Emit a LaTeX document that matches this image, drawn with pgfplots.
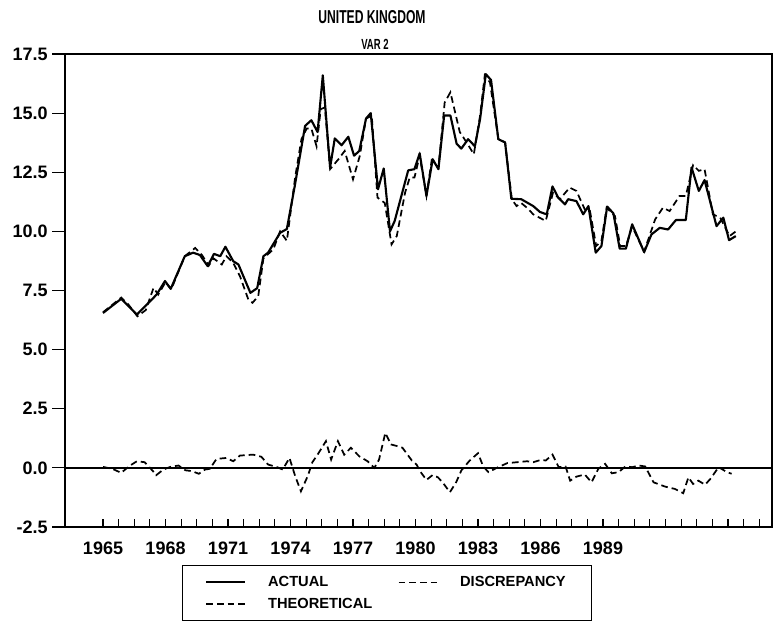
\documentclass[border=0pt]{standalone}
\usepackage{pgfplots}
\usepackage{pgfplotstable}
\pgfplotsset{compat=1.18}
\usepackage{fontspec}
\setmainfont{Liberation Sans}
\newfontfamily\condfont[FakeStretch=0.65]{Liberation Sans}

\pgfplotstableread{
t v
0 6.55
3.5 7.15
6.5 6.48
8.4 6.9
10.3 7.33
11.9 7.9
13 7.57
15.7 8.95
17.3 9.1
18.6 9.0
20.1 8.53
21.3 9.05
22.5 8.95
23.5 9.35
25 8.74
26 8.6
28.3 7.4
29.6 7.6
30.8 8.95
31.7 9.1
34 9.94
35.3 10.1
36.8 11.9
38.8 14.46
40 14.7
41.2 14.2
42.2 16.6
43.6 12.7
44.5 13.93
45.8 13.64
47.1 14.0
48.2 13.2
49.2 13.4
50.5 14.77
51.4 15.0
52.8 11.78
53.9 12.66
55.1 10.0
56 10.44
58.6 12.58
59.8 12.63
60.8 13.3
62.1 11.5
63.3 13.05
64.4 12.63
65.5 14.9
66.7 14.9
67.9 13.7
68.8 13.5
70.1 13.9
71.4 13.6
72.4 14.75
73.5 16.65
74.5 16.4
75.9 13.9
77.2 13.76
78.4 11.38
80.3 11.36
82.6 11.07
83.9 10.82
85.2 10.72
86.3 11.9
87.4 11.43
88.7 11.14
89.3 11.36
90.9 11.28
92.2 10.72
93.2 11.07
94.6 9.1
95.7 9.38
96.8 11.05
98 10.76
99.2 9.27
100.4 9.27
101.6 10.3
103.9 9.12
105.3 9.87
106.9 10.15
108.5 10.08
110 10.48
111.9 10.48
113 12.7
114.4 11.71
115.5 12.17
117.8 10.22
119.1 10.58
120.2 9.63
121.5 9.8
}\actual

\pgfplotstableread{
t v
0 6.58
3.5 7.2
4.9 6.9
6.6 6.41
8.2 6.67
9.7 7.61
10.6 7.33
12 7.85
13.1 7.55
15.7 8.95
17.7 9.3
19 9.0
20.3 8.55
21.2 8.86
22.8 8.6
23.7 8.95
25 8.67
26.3 8.1
27.9 7.12
28.7 6.98
29.8 7.26
30.8 8.86
32.7 9.24
34 10.0
35.3 9.6
36.9 12.3
38.1 13.9
39.1 14.35
40 14.35
41 13.6
41.8 15.17
42.6 15.24
43.6 12.63
45.2 13.05
46.4 13.4
48 12.2
49.3 13.19
50.5 14.77
51.6 14.89
52.7 11.43
54.1 11.2
55.4 9.45
56.4 9.8
58 11.64
58.9 12.28
59.8 12.28
60.8 13.2
62.1 11.5
63.1 13.0
64.4 12.7
65.6 15.45
66.7 15.88
68.5 14.2
69.7 13.8
71.2 13.26
72.4 14.9
73.3 16.6
74.3 16.3
75.9 13.9
77.2 13.76
78.5 11.36
79.4 11.07
80.3 11.2
81.6 10.96
82.6 10.72
85 10.44
86.4 11.64
87.7 11.36
89.6 11.85
90.9 11.71
92.5 10.93
93.5 10.86
94.7 9.38
95.7 9.6
96.7 11.0
98.3 10.65
99.3 9.38
100.4 9.38
101.6 10.2
103.9 9.15
106 10.5
107.5 11.0
108.8 10.86
110.7 11.5
111.9 11.5
113.3 12.8
114.4 12.56
115.5 12.63
117.1 10.72
118.5 10.58
120.3 9.8
121.5 10.0
}\theoretical

\pgfplotstableread{
t v
0 0.04
1.8 -0.04
3.5 -0.21
5 0.07
6.5 0.28
8 0.24
9.6 -0.14
10.2 -0.31
11.6 -0.07
12.9 0.04
14.5 0.1
15.8 -0.1
17.1 -0.14
18.4 -0.25
19.6 -0.07
20.5 -0.04
21.8 0.38
23.7 0.42
25 0.28
26.3 0.52
28.8 0.56
30.4 0.47
31.7 0.14
33.3 0.04
34.5 -0.07
35.8 0.42
36.9 -0.35
38 -0.99
39.3 -0.35
40.2 0.24
41.2 0.56
42.8 1.13
43.8 0.35
45.1 1.13
46.3 0.56
47.6 0.85
49.2 0.49
50.8 0.28
52.1 0.0
53 0.35
54.2 1.48
55.3 0.99
56.5 0.92
57.5 0.85
59.3 0.31
60.2 0.14
61 -0.18
62.1 -0.51
63.3 -0.3
64.3 -0.4
65.2 -0.61
66.6 -1.03
67.8 -0.61
68.8 -0.11
70.4 0.31
72 0.62
73 0.06
74 -0.18
75.6 0.0
77.6 0.2
79.5 0.24
81.4 0.28
82.6 0.24
84.1 0.34
85 0.31
86.3 0.56
87.5 0.03
88.8 0.06
89.7 -0.54
90.9 -0.37
92.5 -0.28
93.8 -0.61
95.1 -0.04
96.4 0.17
97.7 -0.23
99 -0.18
100.3 0.06
101.6 0.03
102.9 0.1
104.1 0.06
105.7 -0.61
107.9 -0.79
109.8 -0.89
111.4 -1.07
112.4 -0.4
113.3 -0.68
114.3 -0.54
115.6 -0.71
116.6 -0.47
118.2 0.03
119.8 -0.18
120.7 -0.25
}\discrepancy

\begin{document}
\begin{tikzpicture}
\useasboundingbox (0,0) rectangle (580.5pt,466.5pt);
\node[font=\condfont\bfseries\fontsize{14}{16}\selectfont] at (279pt,453.5pt) {UNITED KINGDOM};
\node[font=\condfont\bfseries\fontsize{11}{13}\selectfont] at (281.25pt,433.5pt) {VAR 2};
\begin{axis}[
  at={(48.75pt,71.25pt)}, anchor=south west,
  scale only axis,
  width=530.25pt, height=354.75pt,
  xmin=-7.3, xmax=128.45,
  ymin=-2.5, ymax=17.5,
  xtick={0,12,...,96},
  xticklabels={1965,1968,1971,1974,1977,1980,1983,1986,1989},
  minor xtick={0,3,...,126},
  ytick={-2.5,0,...,17.5},
  xtick pos=bottom, ytick pos=left,
  xtick align=inside, ytick align=outside,
  major tick length=9.5pt, minor tick length=6pt,
  major x tick style={draw=none},
  tick style={black, line width=0.9pt},
  axis line style={line width=0.9pt},
  yticklabel style={/pgf/number format/fixed, /pgf/number format/fixed zerofill, /pgf/number format/precision=1},
  xticklabel style={yshift=-8pt},
  /pgf/number format/assume math mode=true,
  tick label style={font=\bfseries\fontsize{13.5}{15}\selectfont},
  legend columns=2,
  legend cell align=left,
  legend style={at={(rel axis cs:0.1655,-0.0803)}, anchor=north west, draw=black, line width=0.9pt,
    font=\bfseries\fontsize{11}{13}\selectfont, inner xsep=17pt, inner ysep=6pt, row sep=3pt,
    /tikz/every even column/.append style={column sep=17pt},
    /tikz/every odd column/.append style={column sep=14.5pt}},
  legend image code/.code={\draw[#1] (0pt,0pt) -- (29pt,0pt);},
]
\draw[black, line width=1pt] (axis cs:-7.3,0) -- (axis cs:128.45,0);
\addplot[black, line width=1.6pt, line join=round] table[x=t,y=v] {\actual};
\addlegendentry{ACTUAL}
\addplot[black, line width=1.3pt, dash pattern=on 5pt off 3pt] table[x=t,y=v] {\discrepancy};
\addlegendentry{DISCREPANCY}
\addplot[black, line width=1.3pt, dash pattern=on 5pt off 3pt] table[x=t,y=v] {\theoretical};
\addlegendentry{THEORETICAL}
\end{axis}
\end{tikzpicture}
\end{document}
